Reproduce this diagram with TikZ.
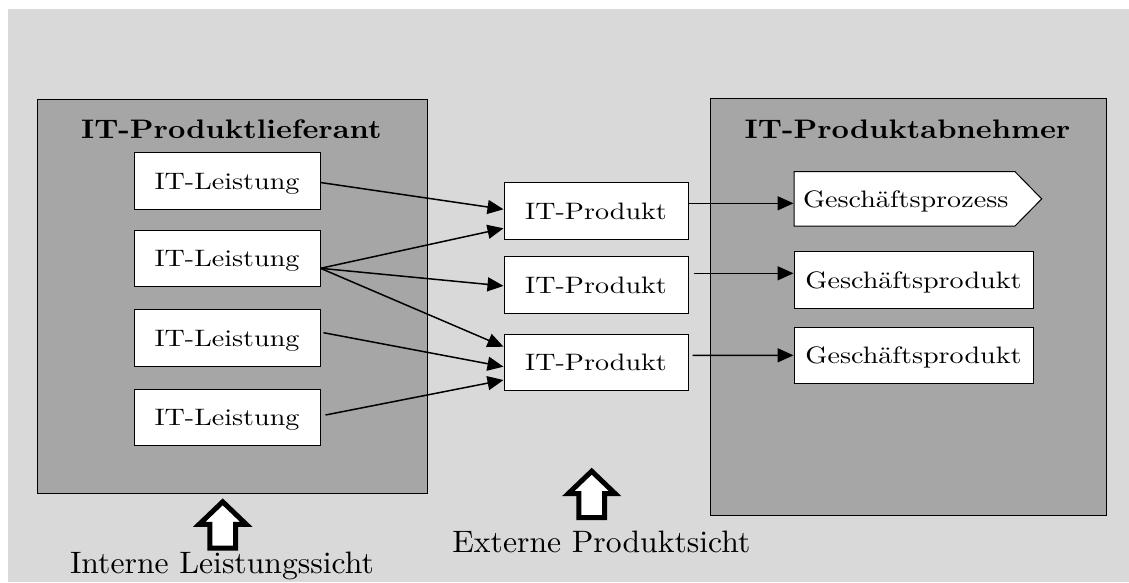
\documentclass[tikz,border=0pt]{standalone}
\usepackage{graphicx}
\usetikzlibrary{arrows.meta,calc}

\definecolor{bgLight}{HTML}{D9D9D9}
\definecolor{panelGray}{HTML}{A6A6A6}

% 10pt design size, enlarged: #1 horizontal factor, #2 vertical factor
\newcommand{\bigtxt}[3]{\scalebox{#1}[#2]{#3}}
\newcommand{\itemtxt}[1]{\bigtxt{2.81}{2.38}{#1}}
\newcommand{\titletxt}[1]{\bigtxt{3.02}{2.68}{\bfseries #1}}
\newcommand{\viewtxt}[1]{\bigtxt{3.17}{3.1}{#1}}

\tikzset{
  panel/.style={draw=black, line width=0.9pt, fill=panelGray},
  itembox/.style={draw=black, line width=1pt, fill=white, inner sep=0pt,
    font=\fontsize{10}{12}\selectfont, text height=16.2pt, text depth=0pt,
    minimum height=56.5pt},
  paneltitle/.style={font=\fontsize{10}{12}\selectfont, inner sep=0pt, anchor=base},
  viewlabel/.style={font=\fontsize{10}{12}\selectfont, inner sep=0pt, anchor=base},
  arr/.style={line width=1.5pt, -{Triangle[length=16pt,width=14pt]}},
  bigup/.pic={
    \draw[line width=5pt, fill=white, line join=miter, miter limit=10]
      (0,3.5) -- (-23.5,26) -- (-12.9,26) -- (-12.9,49.9) -- (12.9,49.9)
      -- (12.9,26) -- (23.5,26) -- cycle;
  }
}

\begin{document}
\begin{tikzpicture}[x=1pt, y=-1pt]
  \useasboundingbox (0,0) rectangle (1129,582);
  \fill[bgLight] (8,9) rectangle (1129,582);

  % the two parties
  \node[panel, minimum width=390pt, minimum height=394pt, anchor=north west] (lief) at (37,99) {};
  \node[panel, minimum width=395.7pt, minimum height=416.7pt, anchor=north west] (abn) at (710,98.3) {};
  \node[paneltitle] (liefT) at (231.3,138.3) {\titletxt{IT-Produktlieferant}};
  \node[paneltitle] (abnT) at (907.5,138.3) {\titletxt{IT-Produktabnehmer}};

  % internal services
  \node[itembox, minimum width=186pt] (L1) at (227,181) {\itemtxt{IT-Leistung}};
  \node[itembox, minimum width=186pt] (L2) at (227,258.3) {\itemtxt{IT-Leistung}};
  \node[itembox, minimum width=186pt] (L3) at (227,338) {\itemtxt{IT-Leistung}};
  \node[itembox, minimum width=186pt] (L4) at (227,417.5) {\itemtxt{IT-Leistung}};

  % products
  \node[itembox, minimum width=184pt] (P1) at (596,210.9) {\itemtxt{IT-Produkt}};
  \node[itembox, minimum width=184pt] (P2) at (596,284.9) {\itemtxt{IT-Produkt}};
  \node[itembox, minimum width=184pt] (P3) at (596,362.3) {\itemtxt{IT-Produkt}};

  % business process: pentagon outline, then its text on top
  \coordinate (g1nw) at (794,171.7);
  \coordinate (g1ne) at (1015,171.7);
  \coordinate (g1tip) at (1041.7,198.9);
  \coordinate (g1se) at (1015,226);
  \coordinate (g1sw) at (794,226);
  \draw[line width=1pt, fill=white] (g1nw) -- (g1ne) -- (g1tip) -- (g1se) -- (g1sw) -- cycle;
  \node[itembox, draw=none, fill=none, minimum width=221pt, minimum height=54.3pt,
        text width=203pt, align=left, inner xsep=9pt] (G1) at (904.5,198.9)
        {\itemtxt{Geschäftsprozess}};

  % business products
  \node[itembox, minimum width=239pt] (G2) at (913.5,279.9) {\itemtxt{Geschäftsprodukt}};
  \node[itembox, minimum width=239pt] (G3) at (913.5,355.4) {\itemtxt{Geschäftsprodukt}};

  % services -> products
  \coordinate (L2s) at ($(L2.east)+(0,10)$);
  \draw[arr] ($(L1.east)+(0,1.5)$) -- ($(P1.west)+(0,-1.6)$);
  \draw[arr] (L2s) -- ($(P1.west)+(0,17.4)$);
  \draw[arr] (L2s) -- ($(P2.west)+(0,1)$);
  \draw[arr] (L2s) -- ($(P3.west)+(0,-15.6)$);
  \draw[arr] ($(L3.east)+(3,-5.3)$) -- ($(P3.west)+(0,4.4)$);
  \draw[arr] ($(L4.east)+(5,-2.5)$) -- ($(P3.west)+(0,17.7)$);

  % products -> business
  \draw[arr] ($(P1.east)+(0,-7.6)$) -- ($(G1.west)+(0,4.4)$);
  \draw[arr] ($(P2.east)+(5,-11.6)$) -- ($(G2.west)+(0,-6.6)$);
  \draw[arr] ($(P3.east)+(4,-7)$) -- ($(G3.west)+(0,-0.1)$);

  % viewpoints
  \pic at (222.7,498.3) {bigup};
  \pic at (591.7,467.7) {bigup};
  \node[viewlabel] (intL) at (222,573) {\viewtxt{Interne Leistungssicht}};
  \node[viewlabel] (extL) at (601.4,552.7) {\viewtxt{Externe Produktsicht}};
\end{tikzpicture}
\end{document}
